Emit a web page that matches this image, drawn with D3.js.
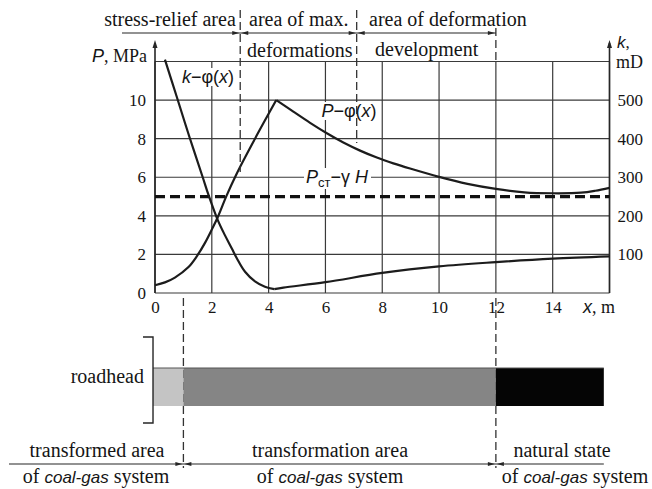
<!DOCTYPE html>
<html>
<head>
<meta charset="utf-8">
<script src="https://cdn.jsdelivr.net/npm/d3@7"></script>
<style>
    body { margin: 0; background: #fff; }
    text { fill: #151515; }
</style>
</head>
<body>
<svg id="chart" width="652" height="489"></svg>
<script>
// tick labels
const xTicks = [0, 2, 4, 6, 8, 10, 12, 14];
const pTicks = [0, 2, 4, 6, 8, 10];
const kTicks = [100, 200, 300, 400, 500];

// P - phi(x), MPa (rising and falling branch, peak is a kink)
const pRiseX = [0, 0.35, 0.7, 1.17, 1.47, 1.76, 2.02, 2.2, 2.52, 2.88, 3.52, 4.27];
const pRiseV = [0.4, 0.55, 0.8, 1.33, 1.9, 2.6, 3.35, 3.9, 5.05, 6.2, 8.0, 10.0];
const pFallX = [4.27, 4.87, 5.46, 6.05, 6.63, 7.22, 7.81, 8.39, 8.98, 10, 11, 12, 13, 14, 15, 15.5, 16];
const pFallV = [10.0, 9.4, 8.82, 8.28, 7.8, 7.38, 7.02, 6.72, 6.45, 6.02, 5.66, 5.4, 5.22, 5.17, 5.2, 5.3, 5.45];

// k - phi(x), mD
const kFallX = [0.35, 0.76, 1.21, 1.68, 1.88, 2.21, 2.46, 2.7, 2.88, 3.17, 3.52, 3.87, 4.2];
const kFallV = [605, 510, 405, 300, 255, 189, 150, 116, 90, 55, 30, 16, 10];
const kRiseX = [4.2, 4.52, 6, 8, 10, 12, 14, 16];
const kRiseV = [10, 14, 28, 52, 69, 80, 89, 95];

// P_st - gamma H
const pStatic = 5;

// zone borders (m) and fills of the roadhead bar
const barEdges = [-0.07, 1, 12, 15.8];
const barColors = ["#c4c4c4", "#858585", "#050505"];
const topBorders = [3, 7.1, 12];

const SERIF = '"Liberation Serif", Tinos, "DejaVu Serif", "Times New Roman", serif';
const SANS = '"Liberation Sans", Arimo, Arial, sans-serif';

const svg = d3.select("#chart");
const x = d3.scaleLinear().domain([0, 16]).range([155, 609.5]);
const y = d3.scaleLinear().domain([0, 12]).range([293, 61.5]);
const yk = d3.scaleLinear().domain([0, 600]).range([293, 61.5]);

const ink = "#262626";

// grid
const grid = svg.append("g").attr("stroke", "#3a3a3a").attr("stroke-width", 1.2);
d3.range(0, 17, 2).forEach(v => {
    grid.append("line")
        .attr("x1", x(v)).attr("x2", x(v))
        .attr("y1", y(0)).attr("y2", y(12));
});
d3.range(0, 13, 2).forEach(v => {
    grid.append("line")
        .attr("x1", x(0)).attr("x2", x(16))
        .attr("y1", y(v)).attr("y2", y(v));
});

// small filled arrowhead, dir: "up", "left", "right"
function arrow(g, tx, ty, dir) {
    var p;
    if (dir === "up") p = [[tx, ty], [tx - 2.5, ty + 8], [tx + 2.5, ty + 8]];
    else if (dir === "right") p = [[tx, ty], [tx - 7, ty - 2], [tx - 7, ty + 2]];
    else p = [[tx, ty], [tx + 7, ty - 2], [tx + 7, ty + 2]];
    g.append("path").attr("d", d3.line()(p) + "Z").attr("fill", ink).attr("stroke", "none");
}

[x(0), x(16)].forEach(ax => {
    svg.append("line")
        .attr("x1", ax).attr("x2", ax)
        .attr("y1", y(0)).attr("y2", 43)
        .attr("stroke", ink).attr("stroke-width", 1.6);
    arrow(svg, ax, 40, "up");
});

const tickFont = g => g.selectAll("text")
    .style("font-family", SERIF).style("font-size", "17px").attr("fill", "#222");

svg.append("g")
    .attr("transform", `translate(0,${y(0)})`)
    .call(d3.axisBottom(x).tickValues(xTicks).tickSize(0).tickPadding(8).tickFormat(d3.format("d")))
    .call(g => g.select(".domain").remove())
    .call(tickFont);

svg.append("g")
    .attr("transform", `translate(${x(0)},0)`)
    .call(d3.axisLeft(y).tickValues(pTicks).tickSize(0).tickPadding(9).tickFormat(d3.format("d")))
    .call(g => g.select(".domain").remove())
    .call(tickFont);

svg.append("g")
    .attr("transform", `translate(${x(16)},0)`)
    .call(d3.axisRight(yk).tickValues(kTicks).tickSize(0).tickPadding(8).tickFormat(d3.format("d")))
    .call(g => g.select(".domain").remove())
    .call(tickFont);

// axis titles
const pTitle = svg.append("text").attr("x", 147).attr("y", 62).attr("text-anchor", "end").style("font-size", "18px");
pTitle.append("tspan").style("font-family", SANS).style("font-style", "italic").text("P");
pTitle.append("tspan").style("font-family", SERIF).text(", MPa");

const kTitle = svg.append("text").attr("x", 617).attr("y", 48).style("font-size", "17px");
kTitle.append("tspan").style("font-family", SANS).style("font-style", "italic").text("k");
kTitle.append("tspan").style("font-family", SERIF).text(",");
svg.append("text").style("font-family", SERIF).attr("x", 616).attr("y", 68).style("font-size", "18px").text("mD");

const xTitle = svg.append("text").attr("x", 583).attr("y", 313).style("font-size", "18px");
xTitle.append("tspan").style("font-family", SANS).style("font-style", "italic").text("x");
xTitle.append("tspan").style("font-family", SERIF).text(", m");

// static pressure line
svg.append("line")
    .attr("x1", x(0)).attr("x2", x(16))
    .attr("y1", y(pStatic)).attr("y2", y(pStatic))
    .attr("stroke", "#111").attr("stroke-width", 3.2)
    .attr("stroke-dasharray", "10,5");

// curves
const pLine = d3.line().x(d => x(d[0])).y(d => y(d[1])).curve(d3.curveCatmullRom.alpha(0.5));
const kLine = d3.line().x(d => x(d[0])).y(d => yk(d[1])).curve(d3.curveCatmullRom.alpha(0.5));
const curves = svg.append("g").attr("fill", "none").attr("stroke", "#1c1c1c").attr("stroke-width", 2.2);
curves.append("path").attr("d", pLine(d3.zip(pRiseX, pRiseV)));
curves.append("path").attr("d", pLine(d3.zip(pFallX, pFallV)));
curves.append("path").attr("d", kLine(d3.zip(kFallX, kFallV)));
curves.append("path").attr("d", kLine(d3.zip(kRiseX, kRiseV)));

// curve labels with white backing
function curveLabel(cx, cy, parts) {
    var g = svg.append("g");
    var bg = g.append("rect").attr("fill", "#fff");
    var t = g.append("text").attr("x", cx).attr("y", cy).attr("text-anchor", "middle")
        .style("font-family", SANS).style("font-size", "18px");
    parts.forEach(p => {
        var s = t.append("tspan").text(p.t);
        if (p.i) s.style("font-style", "italic");
        if (p.sub) s.style("font-size", "13px").attr("dy", 4);
        if (p.up) s.attr("dy", -4);
    });
    var b = t.node().getBBox();
    bg.attr("x", b.x - 2).attr("y", b.y + 1).attr("width", b.width + 4).attr("height", b.height - 2);
}
curveLabel(208, 83, [{ t: "k", i: true }, { t: "\u2212\u03c6(" }, { t: "x", i: true }, { t: ")" }]);
curveLabel(349, 117, [{ t: "P", i: true }, { t: "\u2212\u03c6(" }, { t: "x", i: true }, { t: ")" }]);
curveLabel(337, 183, [{ t: "P", i: true }, { t: "\u0441\u0442", sub: true }, { t: "\u2212\u03b3 ", up: true }, { t: "H", i: true }]);

// dashed zone borders
const dash = svg.append("g").attr("stroke", "#333").attr("stroke-width", 1.3).attr("stroke-dasharray", "8,4");
function vdash(v, y1, y2) {
    dash.append("line").attr("x1", x(v)).attr("x2", x(v)).attr("y1", y1).attr("y2", y2);
}
vdash(topBorders[0], 10, 172);
vdash(topBorders[1], 10, 143);
vdash(topBorders[2], 28, 60);
vdash(barEdges[1], 298, 468);
vdash(barEdges[2], 298, 468);

// top zone header
const hdr = svg.append("g");
hdr.append("line").attr("x1", 122).attr("x2", x(12)).attr("y1", 33).attr("y2", 33)
    .attr("stroke", ink).attr("stroke-width", 1.2);
arrow(hdr, x(3) - 1, 33, "right");
arrow(hdr, x(3) + 1, 33, "left");
arrow(hdr, x(7.1) - 1, 33, "right");
arrow(hdr, x(7.1) + 1, 33, "left");
arrow(hdr, x(12) - 1, 33, "right");

const hText = [
    { t: "stress-relief area", x: 170, y: 26, a: "middle" },
    { t: "area of max.", x: 249, y: 26, a: "start" },
    { t: "deformations", x: 247, y: 57, a: "start" },
    { t: "area of deformation", x: 369, y: 26, a: "start" },
    { t: "development", x: 375, y: 56, a: "start" },
];
hText.forEach(d => {
    hdr.append("text").style("font-family", SERIF).attr("x", d.x).attr("y", d.y)
        .attr("text-anchor", d.a).style("font-size", "20px").text(d.t);
});

// roadhead bar
const bar = svg.append("g");
barColors.forEach((c, i) => {
    bar.append("rect")
        .attr("x", x(barEdges[i])).attr("y", 368)
        .attr("width", x(barEdges[i + 1]) - x(barEdges[i])).attr("height", 38)
        .attr("fill", c);
});
bar.append("line").attr("x1", x(barEdges[0])).attr("x2", x(barEdges[3]))
    .attr("y1", 368).attr("y2", 368).attr("stroke", "#555").attr("stroke-width", 1);
bar.append("path")
    .attr("d", d3.line()([[143, 337], [x(barEdges[0]), 337], [x(barEdges[0]), 423], [143, 423]]))
    .attr("fill", "none").attr("stroke", ink).attr("stroke-width", 1.4);
bar.append("text").style("font-family", SERIF).attr("x", 144).attr("y", 383)
    .attr("text-anchor", "end").style("font-size", "20px").text("roadhead");

// bottom zone labels
const bot = svg.append("g");
bot.append("line").attr("x1", 9).attr("x2", x(barEdges[3])).attr("y1", 464).attr("y2", 464)
    .attr("stroke", ink).attr("stroke-width", 1.2);
[barEdges[1], barEdges[2]].forEach(v => {
    arrow(bot, x(v) - 1, 464, "right");
    arrow(bot, x(v) + 1, 464, "left");
});
const bText = [
    { t: "transformed area", x: 97 },
    { t: "transformation area", x: 330 },
    { t: "natural state", x: 562 },
];
bText.forEach(d => {
    bot.append("text").style("font-family", SERIF).attr("x", d.x).attr("y", 457)
        .attr("text-anchor", "middle").style("font-size", "20px").text(d.t);
});
[96, 330, 575].forEach(cx => {
    var t = bot.append("text").style("font-family", SERIF).attr("x", cx).attr("y", 483)
        .attr("text-anchor", "middle").style("font-size", "20px");
    t.append("tspan").text("of ");
    t.append("tspan").style("font-family", SANS).style("font-style", "italic").style("font-size", "17px").text("coal-gas");
    t.append("tspan").text(" system");
});
</script>
</body>
</html>
